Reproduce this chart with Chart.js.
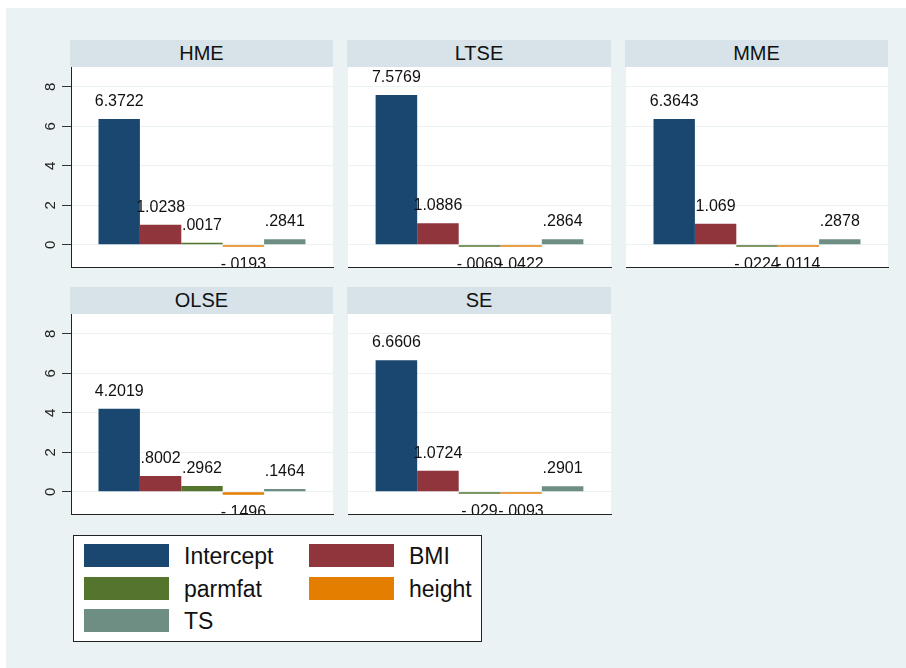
<!DOCTYPE html>
<html>
<head>
<meta charset="utf-8">
<script src="https://cdn.jsdelivr.net/npm/chart.js@4/dist/chart.umd.min.js"></script>
<style>
  html, body { margin: 0; padding: 0; width: 906px; height: 668px; overflow: hidden; background: #ffffff;
    font-family: "Liberation Sans", Arial, sans-serif; }
  #bg { position: absolute; left: 6px; top: 8px; width: 900px; height: 660px; background: #eaf2f3; }
  .hdr { position: absolute; background: #d7e3e8; color: #111; font-size: 20px; text-align: center; }
  .panel { position: absolute; }
  #legendBox { position: absolute; left: 73px; top: 535px; width: 407px; height: 105px;
    background: #ffffff; border: 1px solid #222; }
  .sw { position: absolute; width: 85px; height: 23px; }
  .lt { position: absolute; height: 23px; line-height: 23px; font-size: 23px; color: #111; white-space: nowrap; }
</style>
</head>
<body>
<div id="bg"></div>
<div id="legendBox"></div>
<script>
// Estimated coefficients by estimator
const panels    = ['HME', 'LTSE', 'MME', 'OLSE', 'SE'];
const series    = ['Intercept', 'BMI', 'parmfat', 'height', 'TS'];
const intercept = [6.3722, 7.5769, 6.3643, 4.2019, 6.6606];
const bmi       = [1.0238, 1.0886, 1.069, 0.8002, 1.0724];
const parmfat   = [0.0017, -0.0069, -0.0224, 0.2962, -0.029];
const height    = [-0.0193, -0.0422, -0.0114, -0.1496, -0.0093];
const ts        = [0.2841, 0.2864, 0.2878, 0.1464, 0.2901];
const yTicks    = [0, 2, 4, 6, 8];

const seriesValues = [intercept, bmi, parmfat, height, ts];
const seriesColors = ['#1a476f', '#90353b', '#55752f', '#e37e00', '#6e8e84'];

// Panel grid geometry (3 columns, 2 rows)
const colGeom = [{ l: 71, r: 333 }, { l: 348, r: 611 }, { l: 626, r: 888 }];
const rowGeom = [{ hdr: 40, top: 67, bot: 267 }, { hdr: 287, top: 314, bot: 514 }];
const AXIS_W = 71;
const FONT = '"Liberation Sans", Arial, sans-serif';

// Stata-style number format: drop the leading zero
function fmt(v) {
  return String(v).replace(/^(-?)0\./, '$1.');
}

const plotBackground = {
  id: 'plotBackground',
  beforeDraw(chart) {
    const { ctx, chartArea: a } = chart;
    ctx.save();
    ctx.fillStyle = '#ffffff';
    ctx.fillRect(a.left, a.top, a.right - a.left, a.bottom - a.top);
    ctx.restore();
  }
};

const valueLabels = {
  id: 'valueLabels',
  afterDatasetsDraw(chart) {
    const { ctx, chartArea: a } = chart;
    ctx.save();
    ctx.beginPath();
    ctx.rect(a.left, a.top, a.right - a.left, a.bottom - a.top);
    ctx.clip();
    ctx.font = '16px ' + FONT;
    ctx.fillStyle = '#111';
    ctx.textAlign = 'center';
    ctx.textBaseline = 'middle';
    chart.data.datasets.forEach((ds, i) => {
      chart.getDatasetMeta(i).data.forEach((bar, j) => {
        const v = ds.data[j];
        const y = v >= 0 ? Math.min(bar.y, bar.base) - 17.5 : Math.max(bar.y, bar.base) + 17.5;
        ctx.fillText(fmt(v), bar.x, y);
      });
    });
    ctx.restore();
  }
};

// Vertical tick labels on the left axis
const yTickLabels = {
  id: 'yTickLabels',
  afterDraw(chart, args, opts) {
    if (!opts.show) return;
    const { ctx } = chart;
    const s = chart.scales.y;
    ctx.save();
    ctx.font = '15px ' + FONT;
    ctx.fillStyle = '#222';
    ctx.textAlign = 'center';
    ctx.textBaseline = 'alphabetic';
    s.ticks.forEach(t => {
      const py = s.getPixelForValue(t.value);
      ctx.save();
      ctx.translate(s.right - 16, py);
      ctx.rotate(-Math.PI / 2);
      ctx.fillText(String(t.value), 0, 0);
      ctx.restore();
    });
    ctx.restore();
  }
};

panels.forEach((name, p) => {
  const col = p % 3, row = Math.floor(p / 3);
  const cg = colGeom[col], rg = rowGeom[row];
  const first = col === 0;
  const axisW = first ? AXIS_W : 0;

  const hdr = document.createElement('div');
  hdr.className = 'hdr';
  hdr.textContent = name;
  Object.assign(hdr.style, {
    left: (cg.l - 1) + 'px', top: rg.hdr + 'px',
    width: (cg.r - cg.l + 1) + 'px', height: (rg.top - rg.hdr) + 'px',
    lineHeight: (rg.top - rg.hdr) + 'px'
  });
  document.body.appendChild(hdr);

  const padT = 2, padB = 3, padR = 2;
  const w = cg.r - cg.l + axisW + padR;
  const h = rg.bot - rg.top + padT + padB;
  const wrap = document.createElement('div');
  wrap.className = 'panel';
  Object.assign(wrap.style, {
    left: (cg.l - axisW) + 'px', top: (rg.top - padT) + 'px', width: w + 'px', height: h + 'px'
  });
  const cv = document.createElement('canvas');
  cv.width = w; cv.height = h;
  wrap.appendChild(cv);
  document.body.appendChild(wrap);

  new Chart(cv, {
    type: 'bar',
    data: {
      labels: [name],
      datasets: series.map((s, i) => ({
        label: s,
        data: [seriesValues[i][p]],
        backgroundColor: seriesColors[i],
        borderWidth: 0,
        categoryPercentage: 0.79,
        barPercentage: 1.0,
        minBarLength: 2
      }))
    },
    options: {
      responsive: false,
      animation: false,
      layout: { padding: { left: 0, right: padR, top: padT, bottom: padB } },
      plugins: {
        legend: { display: false },
        tooltip: { enabled: false },
        yTickLabels: { show: first }
      },
      scales: {
        x: {
          type: 'category',
          offset: true,
          grid: { display: false },
          ticks: { display: false },
          border: { display: true, color: '#222', width: 1 },
          afterFit(s) { s.height = 0; }
        },
        y: {
          min: -1.12,
          max: 9.0,
          afterBuildTicks(s) { s.ticks = yTicks.map(v => ({ value: v })); },
          ticks: { display: false },
          grid: {
            color: '#eaf2f3',
            lineWidth: 1,
            drawTicks: first,
            tickLength: 9,
            tickColor: '#333'
          },
          border: { display: first, color: '#222', width: 1 },
          afterFit(s) { s.width = axisW; }
        }
      }
    },
    plugins: [plotBackground, valueLabels, yTickLabels]
  });
});

// Legend entries
series.forEach((s, i) => {
  const col = i % 2, row = Math.floor(i / 2);
  const top = 544 + row * 32.7;
  const sw = document.createElement('div');
  sw.className = 'sw';
  sw.style.left = (84 + col * 225) + 'px';
  sw.style.top = top + 'px';
  sw.style.background = seriesColors[i];
  document.body.appendChild(sw);
  const lt = document.createElement('div');
  lt.className = 'lt';
  lt.style.left = (184 + col * 225) + 'px';
  lt.style.top = (top + 1) + 'px';
  lt.textContent = s;
  document.body.appendChild(lt);
});
</script>
</body>
</html>
